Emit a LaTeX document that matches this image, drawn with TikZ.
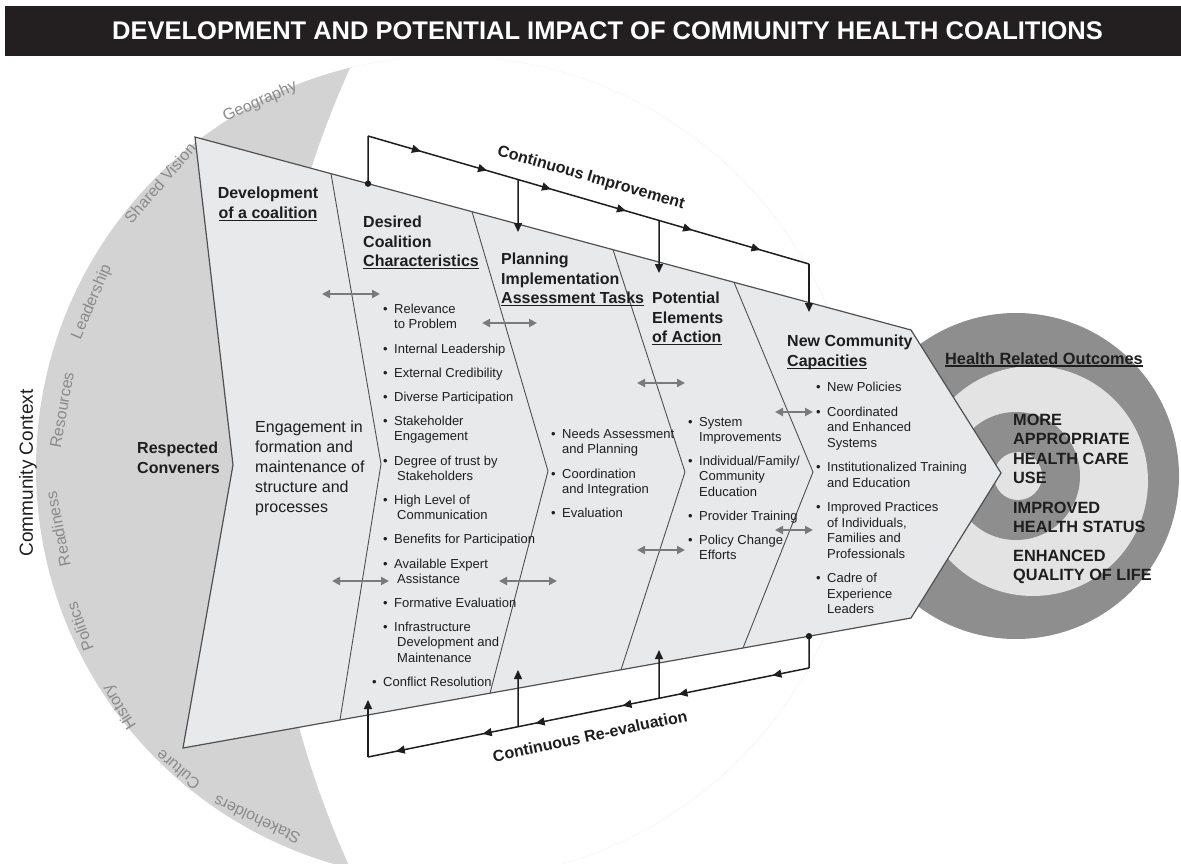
\documentclass[tikz,border=0pt]{standalone}
\usepackage{fontspec}
\setmainfont{Liberation Sans}
\usetikzlibrary{arrows.meta,decorations.markings,calc}
\definecolor{barblack}{HTML}{231F20}
\definecolor{cresc}{HTML}{D3D3D3}
\definecolor{crestext}{HTML}{8A8A8A}
\definecolor{shapefill}{HTML}{E8E9EB}
\definecolor{shapeline}{HTML}{505050}
\definecolor{ringdark}{HTML}{8E8E8E}
\definecolor{ringlight}{HTML}{E3E3E3}
\definecolor{txt}{HTML}{1E1E1E}
\definecolor{garrow}{HTML}{7A7A7A}
\newsavebox{\hulbox}
\newcommand{\hul}[1]{\sbox{\hulbox}{#1}\rlap{\rule[-2.6pt]{\wd\hulbox}{1.3pt}}\usebox{\hulbox}}
\newcommand{\bu}{\makebox[11pt][l]{•}}
\newcommand{\ind}{\hspace*{11pt}}
\newcommand{\indb}{\hspace*{14pt}}
\tikzset{
  head/.style={font={\fontsize{16}{19.5}\selectfont\bfseries}, text=txt, inner sep=0, align=left, anchor=north west},
  bodytext/.style={font={\fontsize{16}{20}\selectfont}, text=txt, inner sep=0, align=left, anchor=north west},
  bul/.style={font={\fontsize{13}{15.2}\selectfont}, text=txt, inner sep=0, align=left, anchor=north west},
  crlabel/.style={font={\fontsize{16}{16}\selectfont}, text=crestext, inner sep=0},
  divider/.style={draw=shapeline, line width=0.9pt},
  loopline/.style={draw=txt, line width=1.5pt},
  garrowline/.style={draw=garrow, line width=2.2pt, arrows={Triangle[length=8pt,width=8pt]-Triangle[length=8pt,width=8pt]}},
  looplabel/.style={font={\fontsize{16}{16}\selectfont\bfseries}, text=txt, inner sep=0},
  >={Triangle[length=9pt,width=8pt]}
}
\begin{document}
\begin{tikzpicture}[x=1pt,y=-1pt]
\useasboundingbox (0,0) rectangle (1181,864);
% title bar
\fill[barblack] (5,6) rectangle (1181,56);
\node[font={\fontsize{25.5}{30}\selectfont\bfseries}, text=white, inner sep=0] (title) at (607.5,31) {DEVELOPMENT AND POTENTIAL IMPACT OF COMMUNITY HEALTH COALITIONS};
% crescent
\begin{scope}
\clip (0,60) rectangle (1181,864);
\clip (448,468) circle[radius=412];
\fill[cresc, even odd rule] (448,468) circle[radius=412] (1234,468) circle[radius=970];
\end{scope}
% crescent labels
\node[crlabel, rotate=24] (lgeo) at (260,102) {Geography};
\node[crlabel, rotate=49] (lsv) at (160,183) {Shared Vision};
\node[crlabel, rotate=67] (llead) at (92,302) {Leadership};
\node[crlabel, rotate=80] (lres) at (62,410) {Resources};
\node[crlabel, rotate=101] (lread) at (58,529) {Readiness};
\node[crlabel, rotate=110] (lpol) at (80,627) {Politics};
\node[crlabel, rotate=122] (lhist) at (120,707) {History};
\node[crlabel, rotate=140] (lcult) at (178,770) {Culture};
\node[crlabel, rotate=155] (lstake) at (257,820) {Stakeholders};
\node[font={\fontsize{19}{19}\selectfont}, text=txt, rotate=90, inner sep=0] (lcc) at (28,473) {Community Context};
% target
\fill[ringdark] (1016,476) circle[radius=163];
\fill[ringlight] (1033,481) circle[radius=115];
\fill[ringdark] (1016,476) circle[radius=64];
\fill[ringlight] (1018,476) circle[radius=24];
% main arrow shape
\coordinate (TL) at (195,137);
\coordinate (TR) at (911,330);
\coordinate (TIP) at (1001,473);
\coordinate (BR) at (911,618);
\coordinate (BL) at (183,748);
\coordinate (NOTCH) at (233,465);
\draw[draw=shapeline, fill=shapefill, line width=1.2pt] (TL) -- (TR) -- (TIP) -- (BR) -- (BL) -- (NOTCH) -- cycle;
% dividers
\draw[divider] ($(TL)!0.18994!(TR)$) -- (381,464) -- ($(BL)!0.21566!(BR)$);
\draw[divider] ($(TL)!0.38687!(TR)$) -- (548,471) -- ($(BL)!0.42170!(BR)$);
\draw[divider] ($(TL)!0.58380!(TR)$) -- (685,472) -- ($(BL)!0.60165!(BR)$);
\draw[divider] ($(TL)!0.75279!(TR)$) -- (813,472) -- ($(BL)!0.76923!(BR)$);
% headings
\node[head, align=center, anchor=north] (h1) at (268,187) {Development\\\hul{of a coalition}};
\node[head] (h2) at (363,216) {Desired\\Coalition\\\hul{Characteristics}};
\node[head] (h3) at (501,253) {Planning\\Implementation\\\hul{Assessment Tasks}};
\node[head] (h4) at (652,292) {Potential\\Elements\\\hul{of Action}};
\node[head] (h5) at (787,335) {New Community\\\hul{Capacities}};
\node[head, font={\fontsize{16}{20}\selectfont\bfseries}] (rc) at (137,442) {Respected\\Conveners};
\node[bodytext] (eng) at (255,421) {Engagement in\\formation and\\maintenance of\\structure and\\processes};
% bullet columns
\node[bul] (c2) at (383,304) {\bu Relevance\\\ind to Problem\\[9pt]
\bu Internal Leadership\\[9pt]
\bu External Credibility\\[9pt]
\bu Diverse Participation\\[9pt]
\bu Stakeholder\\\ind Engagement\\[9pt]
\bu Degree of trust by\\\indb Stakeholders\\[9pt]
\bu High Level of\\\indb Communication\\[9pt]
\bu Benefits for Participation\\[9pt]
\bu Available Expert\\\indb Assistance\\[9pt]
\bu Formative Evaluation\\[9pt]
\bu Infrastructure\\\indb Development and\\\indb Maintenance};
\node[bul] (c2b) at (372,677) {\bu Conflict Resolution};
\node[bul] (c3) at (551,429) {\bu Needs Assessment\\\ind and Planning\\[9pt]
\bu Coordination\\\ind and Integration\\[9pt]
\bu Evaluation};
\node[bul] (c4) at (688,417) {\bu System\\\ind Improvements\\[9pt]
\bu Individual/Family/\\\ind Community\\\ind Education\\[9pt]
\bu Provider Training\\[9pt]
\bu Policy Change\\\ind Efforts};
\node[bul, font={\fontsize{13}{15.5}\selectfont}] (c5) at (816,382) {\bu New Policies\\[9pt]
\bu Coordinated\\\ind and Enhanced\\\ind Systems\\[9pt]
\bu Institutionalized Training\\\ind and Education\\[9pt]
\bu Improved Practices\\\ind of Individuals,\\\ind Families and\\\ind Professionals\\[9pt]
\bu Cadre of\\\ind Experience\\\ind Leaders};
% outcomes
\node[font={\fontsize{16.3}{19.5}\selectfont\bfseries}, text=txt, inner sep=0, anchor=north west] (hro) at (945,352) {\hul{Health Related Outcomes}};
\node[font={\fontsize{16.3}{19.3}\selectfont\bfseries}, text=txt, inner sep=0, anchor=north west, align=left] (outc) at (1013,414) {MORE\\APPROPRIATE\\HEALTH CARE\\USE\\[10.5pt]IMPROVED\\HEALTH STATUS\\[9.5pt]ENHANCED\\QUALITY OF LIFE};
% gray double arrows
\coordinate (ga1a) at (322,294); \coordinate (ga1b) at (380,294);
\coordinate (ga2a) at (482,323); \coordinate (ga2b) at (537,323);
\coordinate (ga3a) at (332,581); \coordinate (ga3b) at (389,581);
\coordinate (ga4a) at (499,581); \coordinate (ga4b) at (557,581);
\coordinate (ga5a) at (637,383); \coordinate (ga5b) at (685,383);
\coordinate (ga6a) at (775,412); \coordinate (ga6b) at (813,412);
\coordinate (ga7a) at (637,550); \coordinate (ga7b) at (685,550);
\coordinate (ga8a) at (775,530); \coordinate (ga8b) at (813,530);
\foreach \i in {1,...,8} {\draw[garrowline] (ga\i a) -- (ga\i b);}
% continuous improvement loop
\coordinate (ciS) at ($(TL)!0.24162!(TR)$);
\coordinate (ciA) at (368,136);
\coordinate (ciB) at (809,264);
\coordinate (ciE) at (809,312);
\coordinate (ciD1) at ($(ciA)!0.34014!(ciB)$);
\coordinate (ciT1) at (518,232);
\coordinate (ciD2) at ($(ciA)!0.65986!(ciB)$);
\coordinate (ciT2) at (659,273);
\draw[loopline] (ciS) -- (ciA);
\draw[loopline, postaction={decorate}, decoration={markings,
  mark=at position 0.12 with {\arrow{>}},
  mark=at position 0.27 with {\arrow{>}},
  mark=at position 0.415 with {\arrow{>}},
  mark=at position 0.585 with {\arrow{>}},
  mark=at position 0.735 with {\arrow{>}},
  mark=at position 0.89 with {\arrow{>}}}] (ciA) -- (ciB);
\draw[loopline, ->] (ciB) -- (ciE);
\draw[loopline, ->] (ciD1) -- (ciT1);
\draw[loopline, ->] (ciD2) -- (ciT2);
\fill[txt] (ciS) circle[radius=3.2];
\node[looplabel, rotate=-16] (lci) at (591,178) {Continuous Improvement};
% continuous re-evaluation loop
\coordinate (crS) at ($(BL)!0.85989!(BR)$);
\coordinate (crA) at (809,668);
\coordinate (crB) at (368,757);
\coordinate (crE) at (368,700);
\coordinate (crD1) at ($(crA)!0.34014!(crB)$);
\coordinate (crT1) at (659,650);
\coordinate (crD2) at ($(crA)!0.65986!(crB)$);
\coordinate (crT2) at (518,670);
\draw[loopline] (crS) -- (crA);
\draw[loopline, postaction={decorate}, decoration={markings,
  mark=at position 0.083 with {\arrow{>}},
  mark=at position 0.296 with {\arrow{>}},
  mark=at position 0.423 with {\arrow{>}},
  mark=at position 0.62 with {\arrow{>}},
  mark=at position 0.74 with {\arrow{>}},
  mark=at position 0.937 with {\arrow{>}}}] (crA) -- (crB);
\draw[loopline, ->] (crB) -- (crE);
\draw[loopline, ->] (crD1) -- (crT1);
\draw[loopline, ->] (crD2) -- (crT2);
\fill[txt] (crS) circle[radius=3.2];
\node[looplabel, rotate=12] (lcr) at (590,736) {Continuous Re-evaluation};
\end{tikzpicture}
\end{document}
